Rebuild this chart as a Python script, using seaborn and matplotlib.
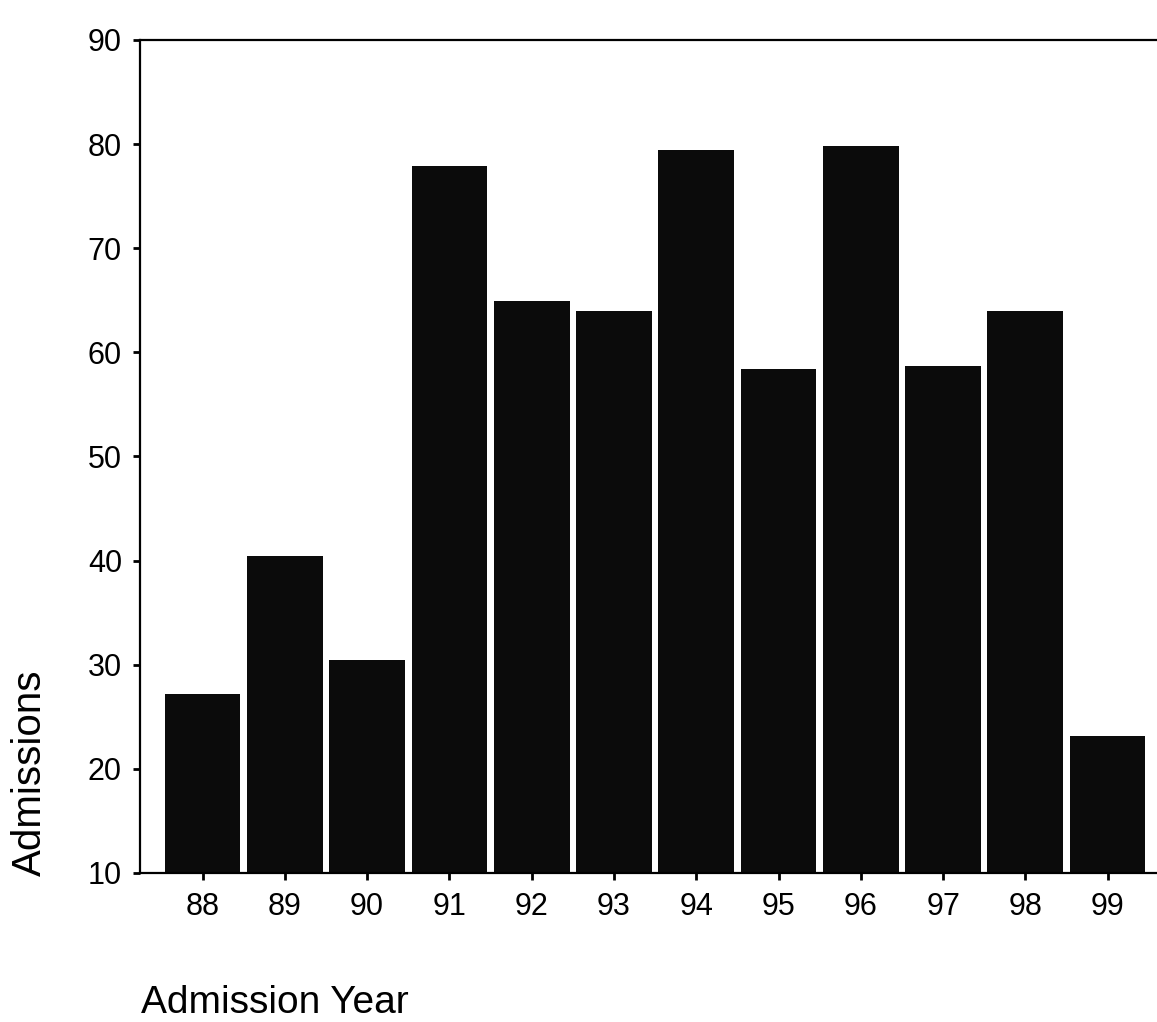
import matplotlib
matplotlib.use("Agg")
import matplotlib.pyplot as plt
import seaborn as sns
import pandas as pd

# values
years = ["88", "89", "90", "91", "92", "93", "94", "95", "96", "97", "98", "99"]
admissions = [27.2, 40.4, 30.5, 77.9, 64.9, 64.0, 79.4, 58.4, 79.8, 58.7, 64.0, 23.2]
y_ticks = [10, 20, 30, 40, 50, 60, 70, 80, 90]

df = pd.DataFrame({"Year": years, "Admissions": admissions})

sns.set_style("ticks")
plt.rcParams["font.family"] = ["Liberation Sans", "DejaVu Sans"]
plt.rcParams["text.color"] = "black"
plt.rcParams["axes.labelcolor"] = "black"

fig = plt.figure(figsize=(11.57, 10.22), dpi=100)
ax = fig.add_axes([0.121, 0.1458, 0.879, 0.8151])

sns.barplot(data=df, x="Year", y="Admissions", color="#0b0b0b",
            saturation=1, width=0.92, edgecolor="none", ax=ax)

ax.set_ylim(10, 90)
ax.set_xlim(-0.76, 11.6)
ax.set_yticks(y_ticks)

for side in ["left", "top", "bottom"]:
    ax.spines[side].set_visible(True)
    ax.spines[side].set_linewidth(1.6)
    ax.spines[side].set_color("black")
ax.spines["right"].set_visible(False)

ax.tick_params(axis="both", direction="out", length=5, width=2,
               labelsize=22, colors="black")
ax.tick_params(axis="x", pad=9)
ax.tick_params(axis="y", pad=8)

ax.set_xlabel("")
ax.set_ylabel("Admissions", fontsize=29, color="black")
ax.yaxis.set_label_coords(-0.09, 0.12)

fig.text(141 / 1157, 1 - 1003 / 1022, "Admission Year", fontsize=28,
         ha="left", va="center", color="black")

fig.savefig("out.png", dpi=100, facecolor="white")
